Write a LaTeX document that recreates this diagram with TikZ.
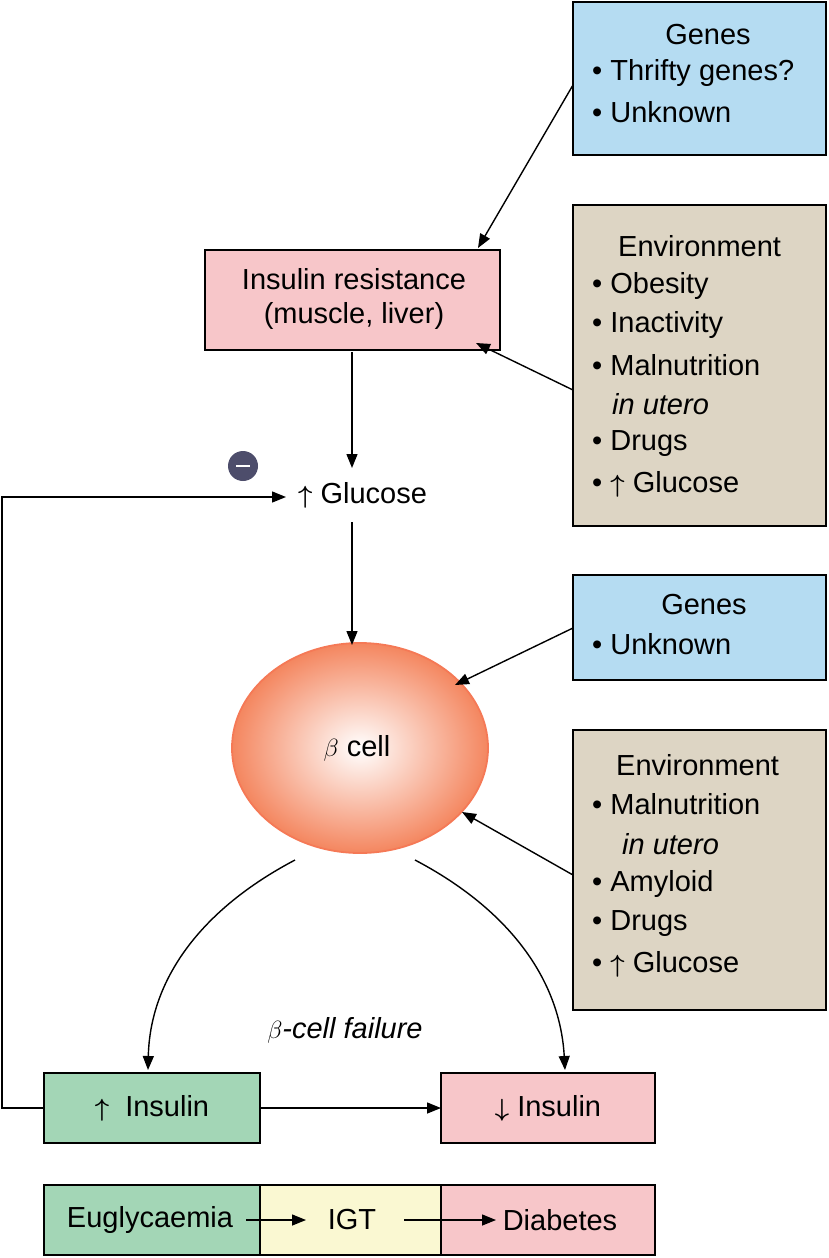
\documentclass[tikz,border=0pt]{standalone}
\usepackage{fontspec}
\setmainfont{Liberation Sans}
\usetikzlibrary{arrows.meta,shapes.geometric}
\definecolor{gblue}{HTML}{B5DCF2}
\definecolor{tan}{HTML}{DDD5C4}
\definecolor{pinkb}{HTML}{F7C6C9}
\definecolor{greenb}{HTML}{A3D6B6}
\definecolor{yell}{HTML}{FAF8D2}
\definecolor{salmon}{HTML}{F4865F}
\definecolor{minusc}{HTML}{4D4D6B}
\newcommand{\myup}{{\boldmath$\uparrow$}}
\newcommand{\mydn}{{\boldmath$\downarrow$}}
\begin{document}
\begin{tikzpicture}[x=1pt,y=-1pt,
  box/.style={draw=black,line width=1.3pt},
  txt/.style={font=\fontsize{29}{34}\selectfont,inner sep=0pt},
  arr/.style={-{Triangle[length=14pt,width=11pt]},line width=1.4pt}]
\useasboundingbox (0,0) rectangle (829,1258);
% boxes
\draw[box,fill=gblue] (573,2) rectangle (826,155);
\node[txt] (g1) at (708,35) {Genes};
\node[txt,anchor=west] at (592,73) {• Thrifty genes?};
\node[txt,anchor=west] at (592,112) {• Unknown};
\draw[box,fill=tan] (573,205) rectangle (826,526);
\node[txt,anchor=west] at (618,246) {Environment};
\node[txt,anchor=west] at (592,286) {• Obesity};
\node[txt,anchor=west] at (592,325) {• Inactivity};
\node[txt,anchor=west] at (592,365) {• Malnutrition};
\node[txt,anchor=west] at (612,404) {\itshape in utero};
\node[txt,anchor=west] at (592,444) {• Drugs};
\node[txt,anchor=west] at (592,484) {• \myup\ Glucose};
\draw[box,fill=pinkb] (205,250) rectangle (500,350);
\node[txt] (ir) at (354,300) {\begin{tabular}{c}Insulin resistance\\(muscle, liver)\end{tabular}};
\node[txt,anchor=west] (glu) at (298,495) {\myup\ Glucose};
\node[circle,fill=minusc,minimum size=30pt,inner sep=0pt] (minus) at (243,466) {};
\draw[white,line width=2.5pt] (236,466) -- (250,466);
\coordinate (gluin) at (286,497);
\coordinate (glutop) at (352,468);
\coordinate (glubot) at (352,522);
\draw[box,fill=gblue] (573,575) rectangle (826,680);
\node[txt] at (704,605) {Genes};
\node[txt,anchor=west] at (592,644) {• Unknown};
\draw[box,fill=tan] (573,730) rectangle (826,1010);
\node[txt,anchor=west] at (616,765) {Environment};
\node[txt,anchor=west] at (592,804) {• Malnutrition};
\node[txt,anchor=west] at (622,844) {\itshape in utero};
\node[txt,anchor=west] at (592,884) {• Amyloid};
\node[txt,anchor=west] at (592,924) {• Drugs};
\node[txt,anchor=west] at (592,964) {• \myup\ Glucose};
\shade[inner color=white,outer color=salmon] (360,748) ellipse [x radius=128,y radius=105];
\draw[line width=1.8pt,draw=salmon!90!red] (360,748) ellipse [x radius=128,y radius=105];
\node[txt] (beta) at (357,748) {$\beta$ cell};
\node[txt,font=\fontsize{29}{34}\selectfont\itshape] at (345,1030) {$\beta$-cell failure};
\draw[box,fill=greenb] (44,1073) rectangle (260,1143);
\node[txt] (upi) at (152,1108) {\myup\ \ Insulin};
\draw[box,fill=pinkb] (441,1073) rectangle (655,1143);
\node[txt] (dni) at (548,1108) {\mydn\ Insulin};
\draw[box,fill=greenb] (44,1185) rectangle (260,1255);
\draw[box,fill=yell] (260,1185) rectangle (441,1255);
\draw[box,fill=pinkb] (441,1185) rectangle (655,1255);
\node[txt] (eu) at (150,1220) {Euglycaemia};
\node[txt] (igt) at (352,1220) {IGT};
\node[txt] (dia) at (560,1220) {Diabetes};
\coordinate (euR) at (246,1220);
\coordinate (igtL) at (306,1220);
\coordinate (igtR) at (404,1220);
\coordinate (diaL) at (496,1220);
% arrows
\draw[arr] (573,85) -- (478,248);
\draw[arr] (573,390) -- (476,343);
\draw[arr] (352,352) -- (glutop);
\draw[arr] (44,1108) -- (2,1108) -- (2,497) -- (gluin);
\draw[arr] (glubot) -- (352,645);
\draw[arr] (573,628) -- (455,685);
\draw[arr] (573,875) -- (462,812);
\draw[arr] (295,860) .. controls (200,910) and (150,980) .. (148,1070);
\draw[arr] (415,860) .. controls (510,910) and (560,980) .. (565,1070);
\draw[arr] (260,1108) -- (441,1108);
\draw[arr] (euR) -- (igtL);
\draw[arr] (igtR) -- (diaL);
\end{tikzpicture}
\end{document}
